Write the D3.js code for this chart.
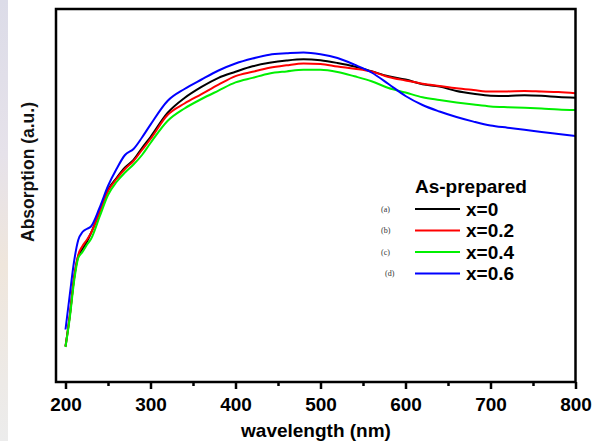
<!DOCTYPE html>
<html>
<head>
<meta charset="utf-8">
<script src="https://cdn.jsdelivr.net/npm/d3@7"></script>
<style>
  body { margin: 0; background: #fff; }
  text { font-family: "Liberation Sans", Arial, sans-serif; }
</style>
</head>
<body>
<script>
const svgWidth = 598;
const svgHeight = 441;

// wavelength samples (nm)
const wavelength = [200, 205, 210, 215, 220, 225, 230, 240, 250, 260, 270, 280, 290, 300,
  320, 340, 360, 380, 400, 420, 440, 460, 480, 500, 520, 540, 560, 580, 600,
  620, 640, 660, 680, 700, 720, 740, 760, 780, 800];

// absorption (a.u.)
const x0 = [0.355, 0.66, 1.03, 1.26, 1.33, 1.40, 1.49, 1.70, 1.92, 2.04, 2.145, 2.22, 2.34, 2.45,
  2.69, 2.84, 2.951, 3.042, 3.102, 3.157, 3.192, 3.215, 3.227, 3.217, 3.19, 3.155, 3.107, 3.058, 3.025,
  2.978, 2.954, 2.91, 2.882, 2.862, 2.86, 2.868, 2.862, 2.85, 2.842];
const x02 = [0.355, 0.66, 1.04, 1.27, 1.36, 1.42, 1.49, 1.70, 1.91, 2.03, 2.13, 2.21, 2.32, 2.43,
  2.67, 2.785, 2.878, 2.973, 3.059, 3.102, 3.142, 3.167, 3.186, 3.181, 3.155, 3.133, 3.105, 3.05, 3.015,
  2.983, 2.96, 2.937, 2.92, 2.904, 2.906, 2.91, 2.905, 2.90, 2.887];
const x04 = [0.35, 0.64, 1.00, 1.24, 1.30, 1.37, 1.43, 1.65, 1.87, 2.00, 2.095, 2.175, 2.27, 2.39,
  2.61, 2.735, 2.83, 2.914, 2.996, 3.041, 3.085, 3.106, 3.123, 3.122, 3.10, 3.057, 3.008, 2.94, 2.895,
  2.847, 2.82, 2.796, 2.775, 2.756, 2.748, 2.743, 2.735, 2.725, 2.72];
const x06 = [0.525, 0.87, 1.20, 1.42, 1.50, 1.53, 1.555, 1.74, 1.96, 2.13, 2.27, 2.33, 2.445, 2.574,
  2.81, 2.93, 3.025, 3.115, 3.185, 3.235, 3.273, 3.287, 3.296, 3.278, 3.24, 3.173, 3.095, 2.98, 2.86,
  2.77, 2.705, 2.65, 2.604, 2.565, 2.543, 2.522, 2.50, 2.48, 2.46];

const seriesNames = ['x=0', 'x=0.2', 'x=0.4', 'x=0.6'];
const seriesTags = ['(a)', '(b)', '(c)', '(d)'];
const seriesColors = ['#000000', '#ff0000', '#00f000', '#0000ff'];
const seriesValues = [x0, x02, x04, x06];

const xTicks = [200, 300, 400, 500, 600, 700, 800];
const xMinorTicks = [250, 350, 450, 550, 650, 750];

const svg = d3.select('body')
              .append('svg')
              .attr('width', svgWidth)
              .attr('height', svgHeight);

// faint watermark strip on the left edge
const grad = svg.append('defs').append('linearGradient')
                .attr('id', 'wm').attr('x1', 0).attr('y1', 0).attr('x2', 0).attr('y2', 1);
grad.append('stop').attr('offset', '0%').attr('stop-color', '#dcdce8');
grad.append('stop').attr('offset', '35%').attr('stop-color', '#e6e2ea');
grad.append('stop').attr('offset', '60%').attr('stop-color', '#efe6dc');
grad.append('stop').attr('offset', '100%').attr('stop-color', '#ececec');
svg.append('rect')
   .attr('x', 0).attr('y', 0)
   .attr('width', 8).attr('height', svgHeight)
   .attr('fill', 'url(#wm)');

const plot = { left: 56, right: 575.5, top: 9, bottom: 382 };

const xScale = d3.scaleLinear()
                 .domain([200, 800])
                 .range([65.5, 575.5]);
const yScale = d3.scaleLinear()
                 .domain([0, 3.73])
                 .range([plot.bottom, plot.top]);

// curves
const line = d3.line()
               .x((d, i) => xScale(wavelength[i]))
               .y(d => yScale(d))
               .curve(d3.curveMonotoneX);

seriesValues.forEach((vals, k) => {
  svg.append('path')
     .datum(vals)
     .attr('d', line)
     .attr('fill', 'none')
     .attr('stroke', seriesColors[k])
     .attr('stroke-width', 2)
     .attr('stroke-linejoin', 'round');
});

// frame
svg.append('rect')
   .attr('x', plot.left)
   .attr('y', plot.top)
   .attr('width', plot.right - plot.left)
   .attr('height', plot.bottom - plot.top)
   .attr('fill', 'none')
   .attr('stroke', '#000')
   .attr('stroke-width', 2.5);

// x axis
const xAxis = d3.axisBottom(xScale)
                .tickValues(xTicks)
                .tickSize(7)
                .tickPadding(9)
                .tickFormat(d3.format('d'));
const gx = svg.append('g')
              .attr('transform', `translate(0,${plot.bottom})`)
              .call(xAxis);
gx.select('.domain').remove();
gx.selectAll('.tick line').attr('stroke-width', 2.5);
gx.selectAll('.tick text')
  .attr('font-size', 19)
  .attr('font-weight', 'bold')
  .attr('fill', '#000')
  .style('font-family', '"Liberation Sans", Arial, sans-serif');

const gxMinor = svg.append('g')
                   .attr('transform', `translate(0,${plot.bottom})`)
                   .call(d3.axisBottom(xScale).tickValues(xMinorTicks).tickSize(4).tickFormat(''));
gxMinor.select('.domain').remove();
gxMinor.selectAll('.tick line').attr('stroke-width', 2.5);

// axis titles
svg.append('text')
   .attr('x', 316)
   .attr('y', 437)
   .attr('text-anchor', 'middle')
   .attr('font-size', 19)
   .attr('font-weight', 'bold')
   .text('wavelength (nm)');

svg.append('text')
   .attr('transform', 'translate(34,172) rotate(-90)')
   .attr('text-anchor', 'middle')
   .attr('font-size', 17.5)
   .attr('font-weight', 'bold')
   .attr('fill', '#111')
   .text('Absorption (a.u.)');

// legend
svg.append('text')
   .attr('x', 415)
   .attr('y', 193)
   .attr('font-size', 19)
   .attr('font-weight', 'bold')
   .text('As-prepared');

const legendY = [209, 230.5, 252, 273.5];
seriesNames.forEach((name, k) => {
  const y = legendY[k];
  svg.append('text')
     .attr('x', k === 3 ? 385 : 381)
     .attr('y', y + 2.5)
     .attr('font-size', 8)
     .attr('fill', '#333')
     .style('font-family', '"Liberation Serif", "Times New Roman", serif')
     .text(seriesTags[k]);
  svg.append('line')
     .attr('x1', 415).attr('x2', 460)
     .attr('y1', y).attr('y2', y)
     .attr('stroke', seriesColors[k])
     .attr('stroke-width', 2);
  svg.append('text')
     .attr('x', 466)
     .attr('y', y + 6.5)
     .attr('font-size', 19)
     .attr('font-weight', 'bold')
     .text(name);
});
</script>
</body>
</html>
